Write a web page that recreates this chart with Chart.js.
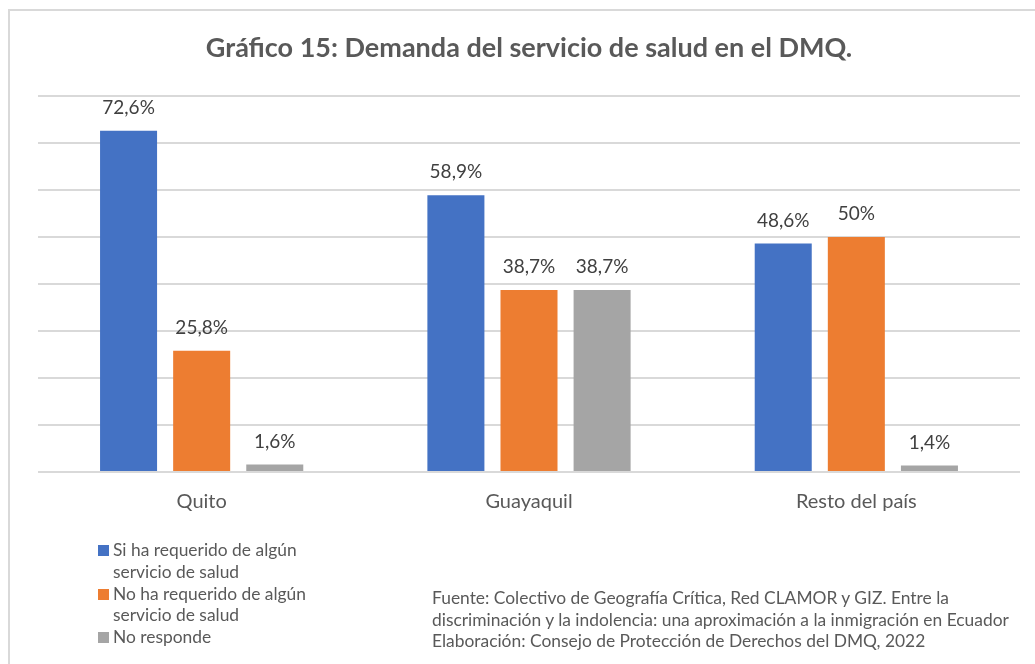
<!DOCTYPE html>
<html>
<head>
<meta charset="utf-8">
<script src="https://cdn.jsdelivr.net/npm/chart.js@4"></script>
<style>
  body { margin: 0; background: #fff; font-family: Lato, "Open Sans", sans-serif; color: #595959; }
  #wrap { position: relative; width: 1035px; height: 664px; overflow: hidden; }
  #marco { position: absolute; left: 8px; top: 9px; width: 1100px; height: 700px; border: 2px solid #d9d9d9; }
  #grafico { position: absolute; left: 0; top: 0; }
  #leyenda { position: absolute; left: 98px; top: 539px; font-size: 17.4px; line-height: 21.8px; }
  #leyenda .item { position: relative; padding-left: 15px; width: 215px; }
  #leyenda .cuadro { position: absolute; left: 0; top: 6px; width: 11px; height: 11px; }
  #fuente { position: absolute; left: 432px; top: 587px; font-size: 17.4px; line-height: 21.5px; white-space: nowrap; }
</style>
</head>
<body>
<div id="wrap">
  <div id="marco"></div>
  <canvas id="grafico" width="1035" height="664"></canvas>
  <div id="leyenda"></div>
  <div id="fuente">
    <div>Fuente: Colectivo de Geografía Crítica, Red CLAMOR y GIZ. Entre la</div>
    <div>discriminación y la indolencia: una aproximación a la inmigración en Ecuador</div>
    <div>Elaboración: Consejo de Protección de Derechos del DMQ, 2022</div>
  </div>
</div>
<script>
// Datos del gráfico
const ciudades = ["Quito", "Guayaquil", "Resto del país"]
const series = [
  "Si ha requerido de algún servicio de salud",
  "No ha requerido de algún servicio de salud",
  "No responde",
]
const siRequerido = [72.6, 58.9, 48.6]
const noRequerido = [25.8, 38.7, 50]
const noResponde = [1.6, 38.7, 1.4]
const colores = ["#4472C4", "#ED7D31", "#A5A5A5"]

const valores = [siRequerido, noRequerido, noResponde]
const fuente = "Lato, 'Open Sans', sans-serif"

// Etiquetas de porcentaje encima de cada barra
const etiquetas = {
  id: "etiquetas",
  afterDatasetsDraw(chart) {
    const ctx = chart.ctx
    ctx.save()
    ctx.font = "19px " + fuente
    ctx.fillStyle = "#404040"
    ctx.textAlign = "center"
    ctx.textBaseline = "middle"
    chart.data.datasets.forEach((ds, i) => {
      chart.getDatasetMeta(i).data.forEach((bar, j) => {
        const txt = String(ds.data[j]).replace(".", ",") + "%"
        ctx.fillText(txt, bar.x, bar.y - 23)
      })
    })
    ctx.restore()
  },
}

new Chart(document.querySelector("#grafico"), {
  type: "bar",
  data: {
    labels: ciudades,
    datasets: series.map((s, i) => ({
      label: s,
      data: valores[i],
      backgroundColor: colores[i],
      categoryPercentage: 0.67,
      barPercentage: 0.78,
    })),
  },
  options: {
    responsive: false,
    animation: false,
    layout: { padding: { left: 38, right: 15, top: 0, bottom: 132 } },
    plugins: {
      legend: { display: false },
      tooltip: { enabled: false },
      title: {
        display: true,
        text: "Gráfico 15: Demanda del servicio de salud en el DMQ.",
        color: "#595959",
        font: { family: fuente, size: 27, weight: "bold" },
        padding: { top: 32, bottom: 31.6 },
      },
    },
    scales: {
      x: {
        grid: { display: false, drawTicks: false },
        border: { display: false },
        ticks: { color: "#595959", font: { family: fuente, size: 20 }, padding: 18 },
      },
      y: {
        min: 0,
        max: 80,
        ticks: { display: false, stepSize: 10 },
        border: { display: false },
        grid: { color: "#d9d9d9", lineWidth: 2, drawTicks: false },
      },
    },
  },
  plugins: [etiquetas],
})

// Leyenda a mano, debajo del gráfico
const leyenda = document.querySelector("#leyenda")
series.forEach((s, i) => {
  leyenda.innerHTML += `<div class="item"><span class="cuadro" style="background:${colores[i]}"></span>${s}</div>`
})
</script>
</body>
</html>
